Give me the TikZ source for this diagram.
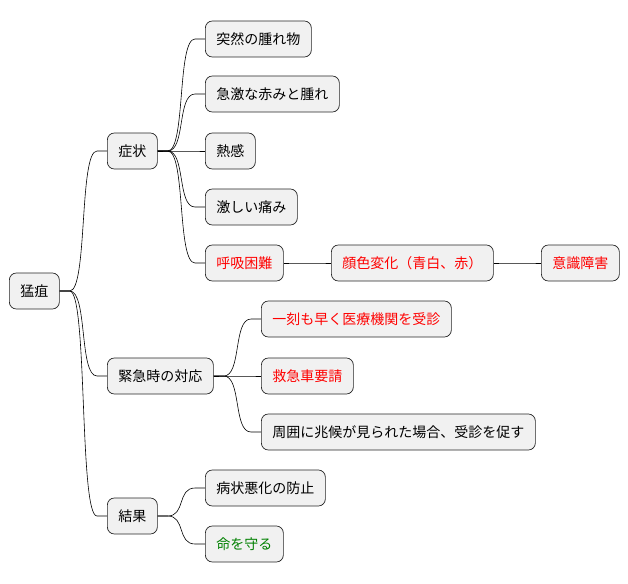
\documentclass[tikz,border=0pt]{standalone}
\usepackage{fontspec}
\setmainfont{Noto Sans CJK JP}
\usetikzlibrary{calc}
\definecolor{boxfill}{HTML}{F1F1F1}
\definecolor{mygreen}{HTML}{008000}
\begin{document}
\begin{tikzpicture}[x=1pt,y=-1pt,
  box/.style={draw=black!85,fill=boxfill,rounded corners=7pt,minimum height=36pt,inner xsep=11pt,anchor=west,font=\fontsize{14}{16}\selectfont,line width=0.7pt},
  red/.style={text=red},
  grn/.style={text=mygreen},
  con/.style={line width=0.6pt,black}]
\useasboundingbox (0,0) rectangle (628,583);
\node[box] (root) at (9,291) {猛疽};
\node[box] (s) at (107,151) {症状};
\node[box] (k) at (107,376) {緊急時の対応};
\node[box] (r) at (107,516) {結果};
\node[box] (s1) at (205,39) {突然の腫れ物};
\node[box] (s2) at (205,94) {急激な赤みと腫れ};
\node[box] (s3) at (205,151) {熱感};
\node[box] (s4) at (205,207) {激しい痛み};
\node[box,red] (s5) at (205,263) {呼吸困難};
\node[box,red] (s6) at (331,263) {顔色変化（青白、赤）};
\node[box,red] (s7) at (541,263) {意識障害};
\node[box,red] (k1) at (261,319) {一刻も早く医療機関を受診};
\node[box,red] (k2) at (261,376) {救急車要請};
\node[box] (k3) at (261,432) {周囲に兆候が見られた場合、受診を促す};
\node[box] (r1) at (205,488) {病状悪化の防止};
\node[box,grn] (r2) at (205,544) {命を守る};
\foreach \p/\c in {root/s,root/k,root/r,s/s1,s/s2,s/s3,s/s4,s/s5,s5/s6,s6/s7,k/k1,k/k2,k/k3,r/r1,r/r2}
  \draw[con] (\p.east) -- ++(10,0) .. controls +(18,0) and ($(\c.west)+(-28,0)$) .. ($(\c.west)+(-10,0)$) -- (\c.west);
\end{tikzpicture}
\end{document}
